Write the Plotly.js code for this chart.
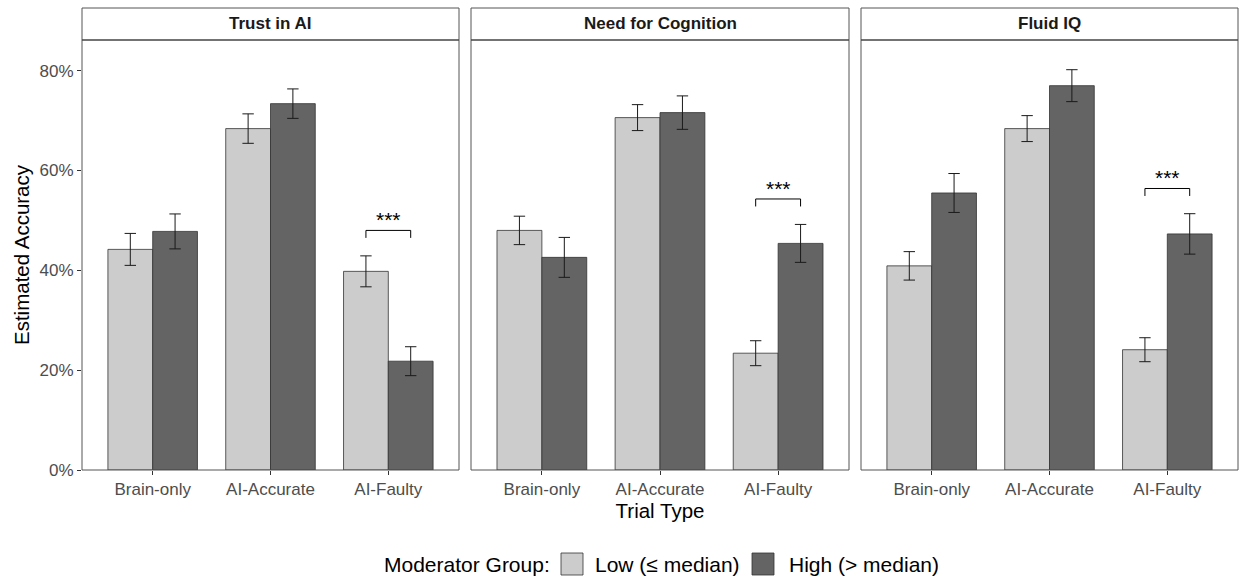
<!DOCTYPE html>
<html>
<head>
<meta charset="utf-8">
<script src="https://cdn.plot.ly/plotly-3.0.1.min.js"></script>
<style>html,body{margin:0;padding:0;background:#fff;}#chart{width:1239px;height:578px;}</style>
</head>
<body>
<div id="chart"></div>
<script>
// ---- Data (percent) ----
const trialTypes = ['Brain-only', 'AI-Accurate', 'AI-Faulty'];
const panelNames = ['Trust in AI', 'Need for Cognition', 'Fluid IQ'];
const groupNames = ['Low (≤ median)', 'High (> median)'];
const legendTitle = 'Moderator Group:';

const trustLow = [44.2, 68.4, 39.8];
const trustLowErr = [3.2, 2.95, 3.1];
const trustHigh = [47.8, 73.4, 21.8];
const trustHighErr = [3.5, 2.95, 2.9];

const nfcLow = [48.0, 70.6, 23.4];
const nfcLowErr = [2.85, 2.6, 2.5];
const nfcHigh = [42.6, 71.6, 45.4];
const nfcHighErr = [4.0, 3.35, 3.8];

const iqLow = [40.9, 68.4, 24.1];
const iqLowErr = [2.85, 2.6, 2.4];
const iqHigh = [55.5, 77.0, 47.3];
const iqHighErr = [3.9, 3.2, 4.05];

// significance brackets (AI-Faulty) per panel
const sigLabels = ['***', '***', '***'];
const sigCategory = ['AI-Faulty', 'AI-Faulty', 'AI-Faulty'];
const sigY = [48.0, 54.3, 56.4];
const sigDrop = 1.5;

const yTicks = [0, 20, 40, 60, 80];

// ---- Styling / layout geometry ----
const W = 1239, H = 578;
const lowColor = '#CCCCCC', highColor = '#646464';
const outline = '#333333';
const panelPx = [[82, 459], [471, 849], [861, 1238]];
const plotTopPx = 40, plotBottomPx = 470, stripTopPx = 8;
const yDom = [1 - plotBottomPx / H, 1 - plotTopPx / H];
const stripTop = 1 - stripTopPx / H;
const barWidthUnits = 0.76;
const FONT = 'Liberation Sans, Arial, Helvetica, sans-serif';

const lowData = [trustLow, nfcLow, iqLow];
const lowErr = [trustLowErr, nfcLowErr, iqLowErr];
const highData = [trustHigh, nfcHigh, iqHigh];
const highErr = [trustHighErr, nfcHighErr, iqHighErr];

const traces = [];
const layout = {
  width: W, height: H,
  margin: {l: 0, r: 0, t: 0, b: 0, autoexpand: false},
  paper_bgcolor: '#fff', plot_bgcolor: '#fff',
  barmode: 'group',
  bargap: 1 - barWidthUnits,
  bargroupgap: 0,
  font: {family: FONT, color: '#000'},
  showlegend: false,
  shapes: [], annotations: []
};

panelNames.forEach((name, i) => {
  const sfx = i === 0 ? '' : String(i + 1);
  const xa = 'x' + sfx, ya = 'y' + sfx;
  traces.push({
    type: 'bar', name: groupNames[0], x: trialTypes, y: lowData[i],
    xaxis: xa, yaxis: ya,
    marker: {color: lowColor, line: {color: outline, width: 0.8}},
    error_y: {type: 'data', array: lowErr[i], visible: true, color: '#1A1A1A', thickness: 1, width: 5.7},
    hoverinfo: 'skip'
  });
  traces.push({
    type: 'bar', name: groupNames[1], x: trialTypes, y: highData[i],
    xaxis: xa, yaxis: ya,
    marker: {color: highColor, line: {color: outline, width: 0.8}},
    error_y: {type: 'data', array: highErr[i], visible: true, color: '#1A1A1A', thickness: 1, width: 5.7},
    hoverinfo: 'skip'
  });

  const xd = [panelPx[i][0] / W, panelPx[i][1] / W];
  layout['xaxis' + sfx] = {
    domain: xd, anchor: ya, type: 'category', range: [-0.6, 2.6],
    categoryorder: 'array', categoryarray: trialTypes,
    showgrid: false, zeroline: false, showline: false,
    ticks: 'outside', ticklen: 4, tickwidth: 1, tickcolor: '#333333',
    tickfont: {size: 17, color: '#4D4D4D'},
    automargin: false,
    title: i === 1 ? {text: 'Trial Type', font: {size: 20.5, color: '#000'}, standoff: 4} : {text: ''}
  };
  layout['yaxis' + sfx] = {
    domain: yDom, anchor: xa, range: [0, 86.15],
    tickvals: yTicks, ticktext: yTicks.map(v => v + '%'),
    showgrid: false, zeroline: false, showline: false,
    ticks: i === 0 ? 'outside' : '', ticklen: 4, tickwidth: 1, tickcolor: '#333333',
    showticklabels: i === 0,
    tickfont: {size: 17, color: '#4D4D4D'},
    automargin: false,
    title: i === 0 ? {text: 'Estimated Accuracy', font: {size: 20.5, color: '#000'}, standoff: 4} : {text: ''}
  };

  // panel border + strip
  layout.shapes.push({type: 'rect', xref: 'paper', yref: 'paper', x0: xd[0], x1: xd[1], y0: yDom[0], y1: stripTop,
    line: {color: '#555555', width: 1}, fillcolor: 'rgba(0,0,0,0)', layer: 'above'});
  layout.shapes.push({type: 'line', xref: 'paper', yref: 'paper', x0: xd[0], x1: xd[1], y0: yDom[1], y1: yDom[1],
    line: {color: '#444444', width: 1.6}, layer: 'above'});
  layout.annotations.push({xref: 'paper', yref: 'paper', x: (xd[0] + xd[1]) / 2, y: (yDom[1] + stripTop) / 2,
    text: '<b>' + name + '</b>', showarrow: false, xanchor: 'center', yanchor: 'middle',
    font: {size: 17, color: '#1A1A1A'}});

  // significance bracket
  const ci = trialTypes.indexOf(sigCategory[i]);
  const half = barWidthUnits / 4;
  const xl = ci - half, xr = ci + half, yb = sigY[i], yd = sigY[i] - sigDrop;
  layout.shapes.push({type: 'path', xref: xa, yref: ya,
    path: `M ${xl} ${yd} L ${xl} ${yb} L ${xr} ${yb} L ${xr} ${yd}`,
    line: {color: '#000', width: 1}});
  layout.annotations.push({xref: xa, yref: ya, x: ci, y: yb, text: sigLabels[i], showarrow: false,
    xanchor: 'center', yanchor: 'bottom', yshift: -3, font: {size: 21, color: '#000'}});
});

// ---- Legend (drawn as keys + text, bottom centre) ----
const legY = 1 - 564 / H;
const keyHalf = 11 / H;
const legItems = [
  {text: legendTitle, x: 383, key: null},
  {text: groupNames[0], x: 594, key: [561, 583], color: lowColor},
  {text: groupNames[1], x: 788, key: [752, 774], color: highColor}
];
legItems.forEach(it => {
  layout.annotations.push({xref: 'paper', yref: 'paper', x: it.x / W, y: legY, text: it.text,
    showarrow: false, xanchor: 'left', yanchor: 'middle', font: {size: 21, color: '#000'}, borderpad: 0});
  if (it.key) {
    layout.shapes.push({type: 'rect', xref: 'paper', yref: 'paper', x0: it.key[0] / W, x1: it.key[1] / W,
      y0: legY - keyHalf, y1: legY + keyHalf, fillcolor: it.color, line: {color: outline, width: 0.8}});
  }
});

Plotly.newPlot('chart', traces, layout, {displayModeBar: false, staticPlot: true});
</script>
</body>
</html>
